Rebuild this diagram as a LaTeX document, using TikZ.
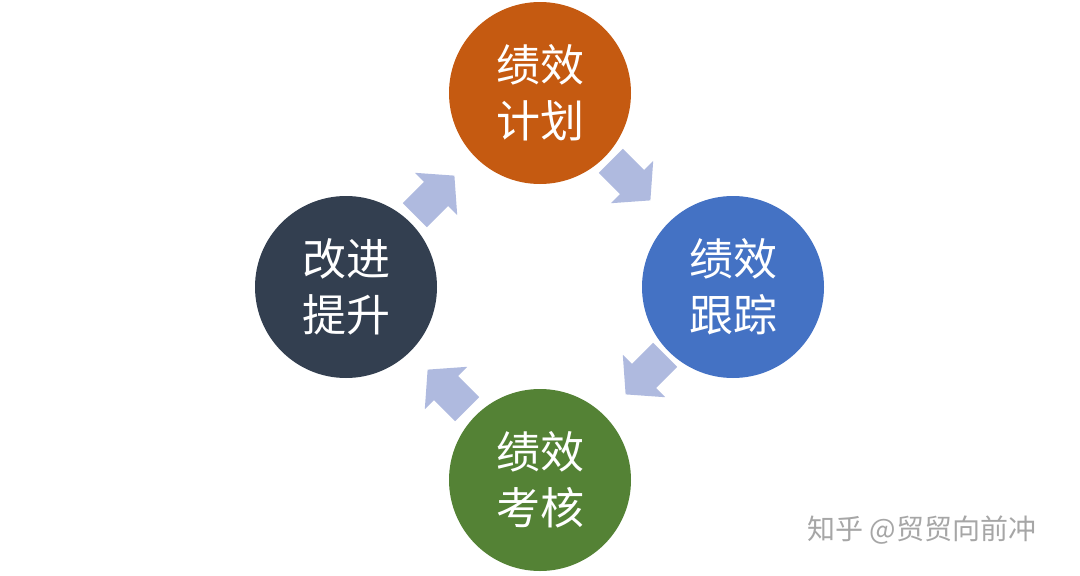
\documentclass[tikz,border=0pt]{standalone}
\usepackage{fontspec}
\newfontfamily\cjk{Noto Sans CJK SC}
\definecolor{cor}{HTML}{C55A11}
\definecolor{cbl}{HTML}{4472C4}
\definecolor{cgr}{HTML}{548235}
\definecolor{cdk}{HTML}{333F50}
\definecolor{car}{HTML}{AFBADF}
\begin{document}
\begin{tikzpicture}[x=1pt,y=-1pt,
  circ/.style={circle,minimum size=182pt,inner sep=0pt,text=white,font=\cjk\fontsize{44}{56}\selectfont,align=center},
  blk/.pic={\fill[car] (-30,-17)--(0,-17)--(0,-30)--(26,0)--(0,30)--(0,17)--(-30,17)--cycle;}]
\useasboundingbox (0,0) rectangle (1080,576);
\node[circ,fill=cor] (a) at (540,93) {绩效\\计划};
\node[circ,fill=cbl] (b) at (733,287) {绩效\\跟踪};
\node[circ,fill=cgr] (c) at (540,480) {绩效\\考核};
\node[circ,fill=cdk] (d) at (346,287) {改进\\提升};
\pic[rotate=45] at (436,194) {blk};
\pic[rotate=-45] at (632,182) {blk};
\pic[rotate=-135] at (644,376) {blk};
\pic[rotate=135] at (446,388) {blk};
\node[text=gray!70,font=\cjk\fontsize{28}{32}\selectfont] (w) at (922,530) {知乎 @贸贸向前冲};
\end{tikzpicture}
\end{document}
